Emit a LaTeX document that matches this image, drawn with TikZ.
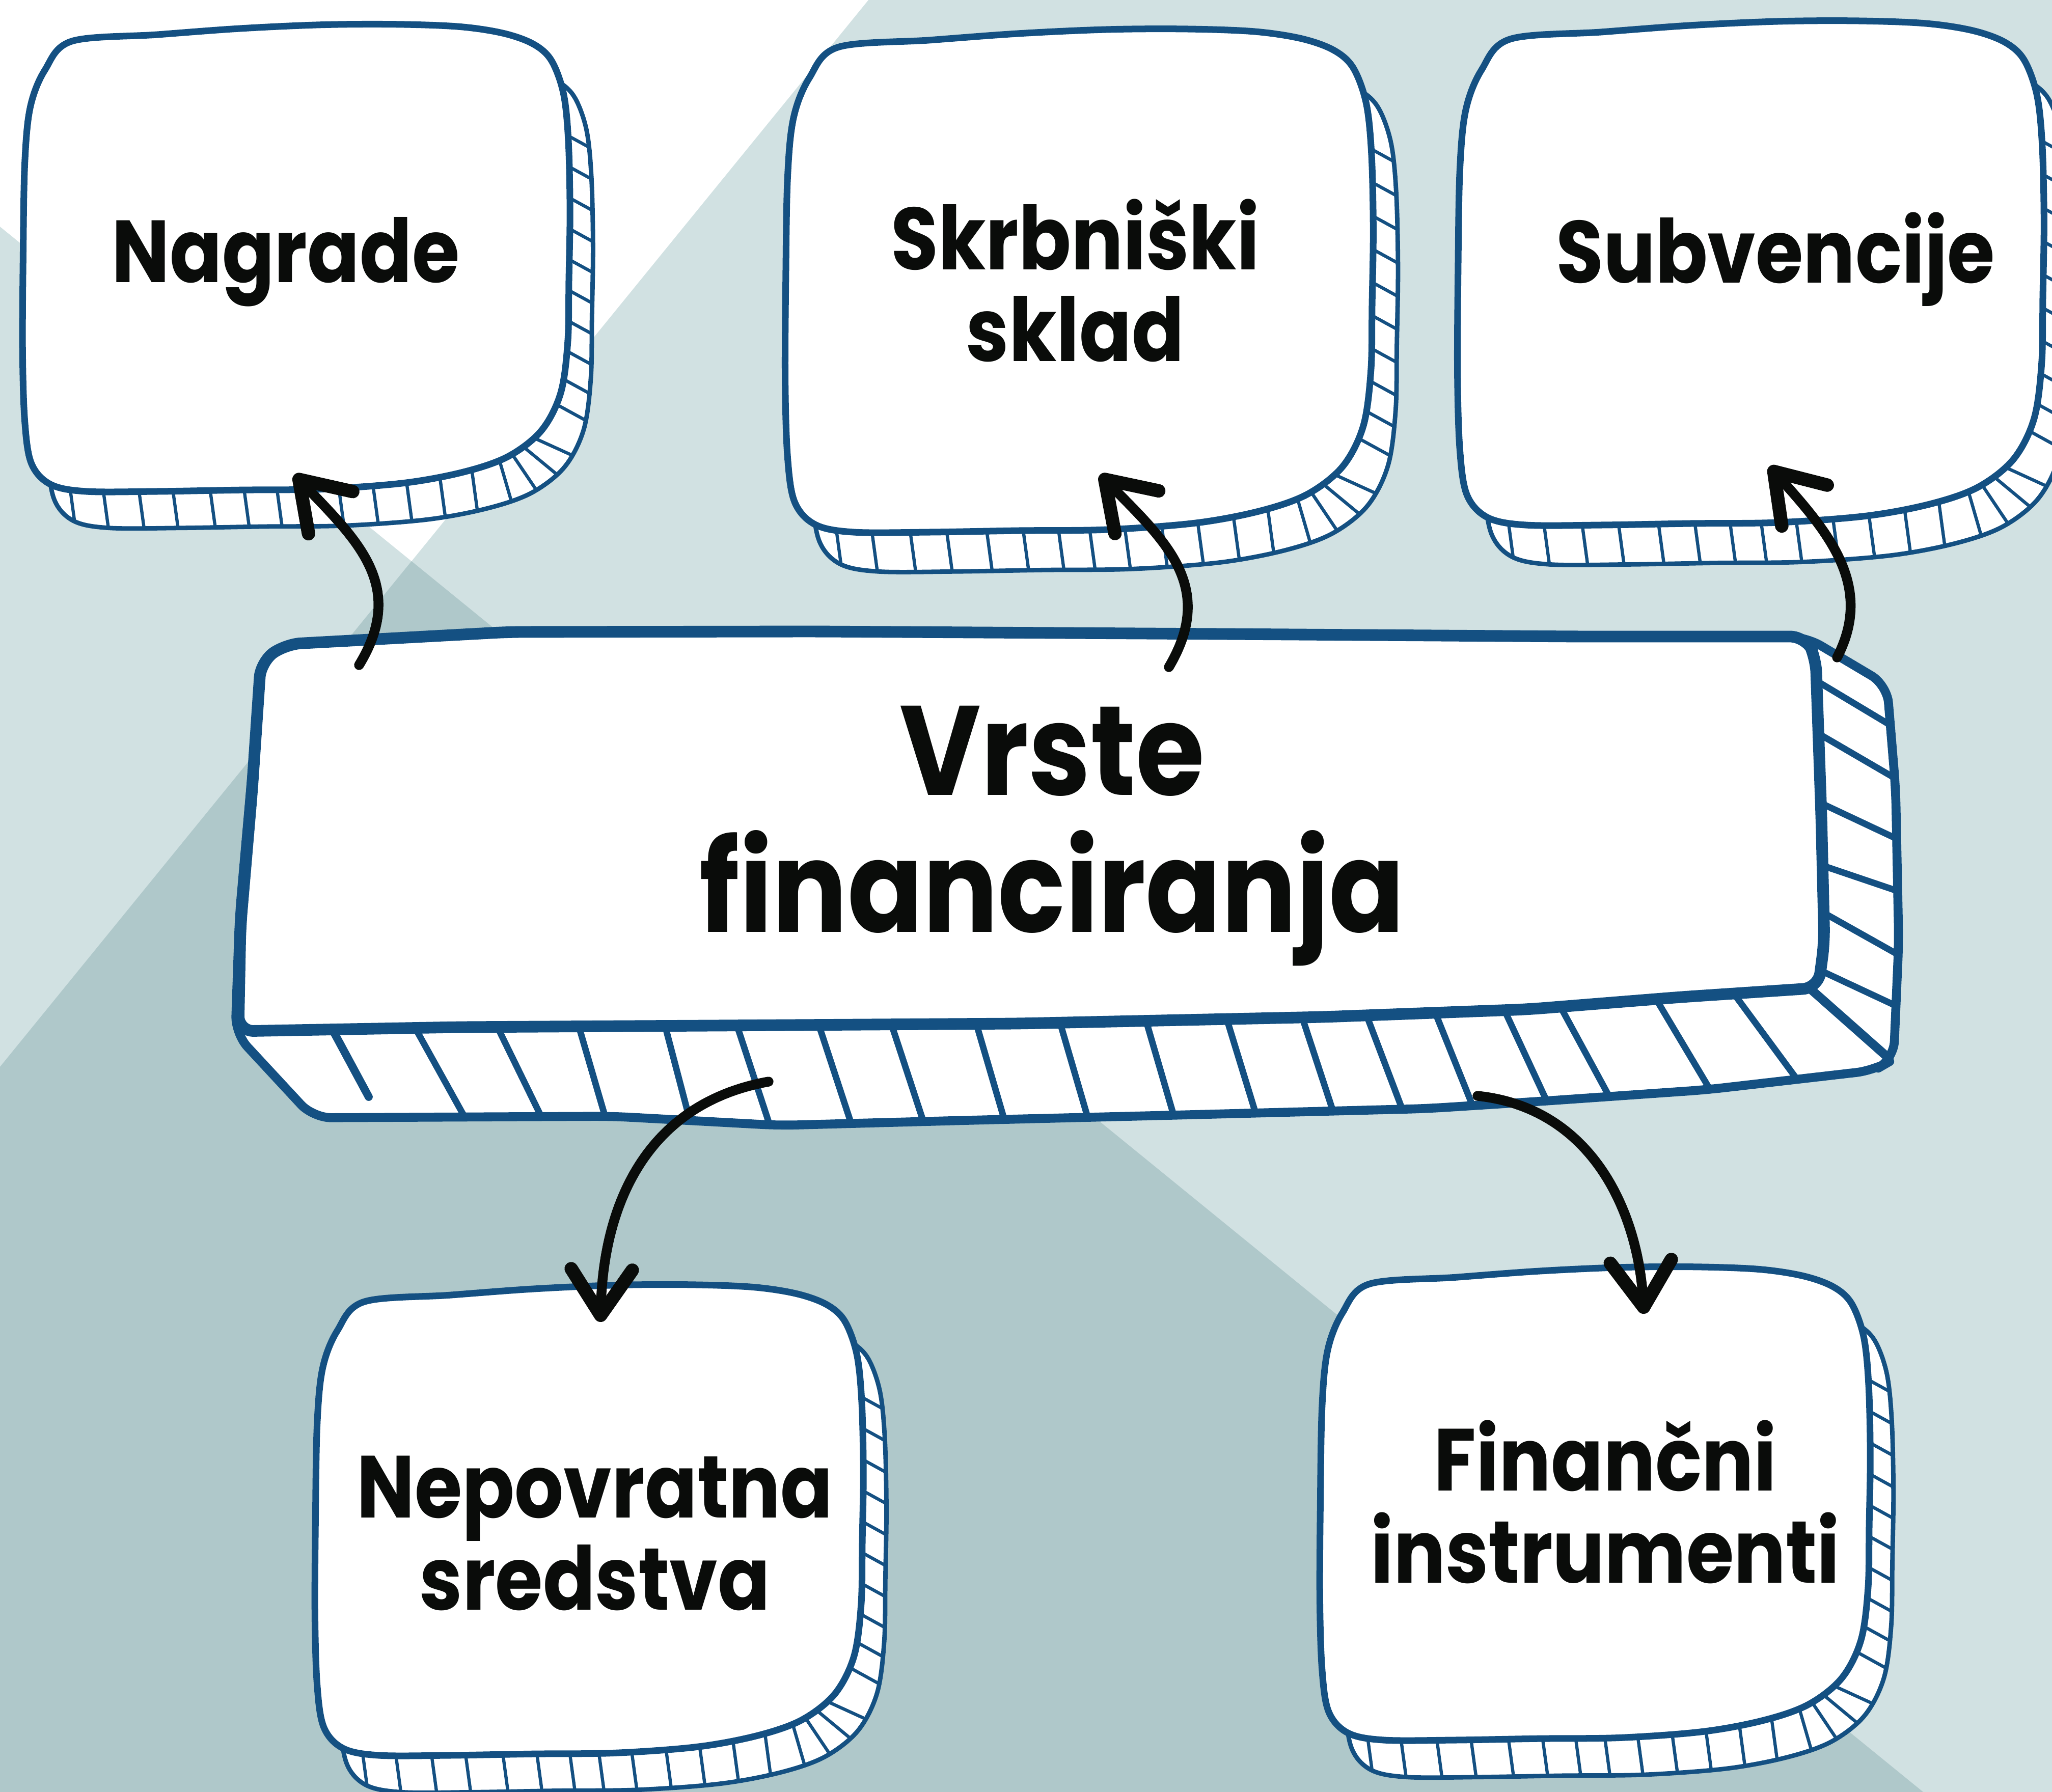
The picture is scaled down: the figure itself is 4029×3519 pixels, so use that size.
\documentclass[tikz,border=0pt]{standalone}
\usepackage{fontspec}
\setmainfont{Poppins}[FakeStretch=0.875]
\usetikzlibrary{arrows.meta}
\definecolor{bglight}{HTML}{D1E1E2}
\definecolor{bgdark}{HTML}{AFC8CA}
\definecolor{boxblue}{HTML}{145082}
\definecolor{ink}{HTML}{0A0C0A}
\newcommand\facepath{plot[smooth cycle, tension=0.55] coordinates {(94,39) (250,25) (400,12) (550,4) (685,3) (800,8) (880,22) (935,45) (968,80) (990,150) (999,250) (1002,400) (1000,550) (998,680) (985,790) (950,870) (890,925) (810,958) (700,982) (550,995) (400,997) (250,1000) (120,1000) (55,985) (20,940) (8,850) (4,700) (5,500) (8,300) (18,180) (45,100)}}
\newcommand\pillow[4]{%
 \begin{scope}[shift={(#1,#2)}, xscale=#3/1000, yscale=#4/1000]
  \fill[white, shift={(42,78)}] \facepath;
  \begin{scope}
   \clip[shift={(42,78)}] \facepath;
   \foreach \u in {75,135,200,262,330,392,452,505,565,628,690,752,812}
     \draw[hatch] (\u,860) -- ++(35,300);
   \foreach \v in {165,230,296,362,428,494,560,626,690,752}
     \draw[hatch] (880,\v) -- ++(250,160);
   \foreach \a in {28,44,60,76}
     \draw[hatch] (850,840) -- ++(\a:330);
  \end{scope}
  \draw[outerline, shift={(42,78)}] \facepath;
  \draw[faceline] \facepath;
 \end{scope}}
\newcommand\bigouter{(515,1290) -- (1500,1240) -- (3545,1250) -- (3705,1345) -- (3722,1550) -- (3728,1850) -- (3718,2080) -- (3680,2102) -- (3350,2140) -- (3035,2162) -- (2800,2177) -- (2300,2190) -- (1900,2200) -- (1530,2210) -- (1200,2192) -- (615,2195) -- (462,2030) -- (470,1800) -- cycle}
\newcommand\bigface{(512,1300) -- (560,1265) -- (1000,1241) -- (1600,1240) -- (2400,1245) -- (3100,1250) -- (3545,1250) -- (3565,1290) -- (3576,1600) -- (3582,1850) -- (3570,1940) -- (3300,1958) -- (3000,1982) -- (2600,1997) -- (2000,2010) -- (1400,2014) -- (900,2017) -- (468,2025) -- (472,1820) -- (495,1550) -- cycle}
\tikzset{
 faceline/.style={draw=boxblue, line width=3.7pt, fill=white, line join=round},
 outerline/.style={draw=boxblue, line width=2.5pt, line join=round},
 hatch/.style={draw=boxblue, line width=1.8pt},
 bigfaceline/.style={draw=boxblue, line width=6.5pt, fill=white, line join=round, rounded corners=0.3cm},
 bigouterline/.style={draw=boxblue, line width=5pt, line join=round, rounded corners=0.35cm},
 bighatch/.style={draw=boxblue, line width=3.6pt, shorten <=-0.7cm, shorten >=-0.6cm},
 conn/.style={draw=ink, line width=5.5pt, line cap=round, -{Straight Barb[length=0.9cm, width=1.2cm, line width=7.5pt, round]}},
 lbl/.style={text=ink, font=\bfseries\fontsize{49.2pt}{51.2pt}\selectfont, align=center, inner sep=0pt, anchor=base},
 mainlbl/.style={text=ink, font=\bfseries\fontsize{71pt}{76.3pt}\selectfont, align=center, inner sep=0pt, anchor=base}
}
\begin{document}
\begin{tikzpicture}[x=0.01cm, y=-0.01cm]
\useasboundingbox (0,0) rectangle (4029,3519);
\clip (0,0) rectangle (4029,3519);
% background
\fill[bglight] (0,0) rectangle (4029,3519);
\fill[white] (0,0) -- (1705,0) -- (808,1102) -- (0,445) -- cycle;
\fill[bgdark] (808,1102) -- (0,2095) -- (0,3519) -- (3776,3519) -- cycle;
% small boxes
\pillow{40}{45}{1077}{920}
\pillow{1537}{54}{1157}{991}
\pillow{2857}{38}{1154}{993}
\pillow{614}{2520}{1079}{927}
\pillow{2587}{2485}{1083}{932}
% main box
\fill[white, rounded corners=0.35cm] \bigouter;
\begin{scope}
 \clip \bigouter;
 \draw[draw=boxblue, line width=4.5pt, line cap=round] (641,2000) -- (724,2154);
 \draw[bighatch] (826,2038) -- (902,2175);
 \draw[bighatch] (987,2038) -- (1054,2175);
 \draw[bighatch] (1143,2038) -- (1183,2175);
 \draw[bighatch] (1312,2038) -- (1348,2175);
 \draw[bighatch] (1455,2038) -- (1500,2175);
 \draw[bighatch] (1616,2038) -- (1661,2175);
 \draw[bighatch] (1759,2038) -- (1804,2175);
 \draw[bighatch] (1925,2038) -- (1965,2175);
 \draw[bighatch] (2090,2038) -- (2130,2175);
 \draw[bighatch] (2260,2038) -- (2300,2175);
 \draw[bighatch] (2420,2038) -- (2462,2175);
 \draw[bighatch] (2570,2038) -- (2615,2175);
 \draw[bighatch] (2700,2038) -- (2752,2175);
 \draw[bighatch] (2831,2021) -- (2886,2158);
 \draw[bighatch] (2968,2014) -- (3035,2158);
 \draw[bighatch] (3078,2003) -- (3160,2154);
 \draw[bighatch] (3266,1986) -- (3356,2137);
 \draw[bighatch] (3427,1982) -- (3525,2115);
 \draw[bighatch, line width=5pt] (3575,1960) -- (3705,2075);
 \draw[bighatch] (3590,1351) -- (3705,1420);
 \draw[bighatch] (3590,1452) -- (3705,1519);
 \draw[bighatch] (3592,1585) -- (3709,1640);
 \draw[bighatch] (3594,1705) -- (3712,1745);
 \draw[bighatch] (3594,1800) -- (3715,1868);
 \draw[bighatch] (3594,1915) -- (3716,1972);
\end{scope}
\draw[bigouterline] \bigouter;
\draw[bigfaceline] \bigface;
% labels (base anchor = baseline of the last line)
\node[lbl] (nagrade) at (561,555) {Nagrade};
\node[lbl] (skrb) at (2111,710) {Skrbniški\\sklad};
\node[lbl] (subv) at (3486,556) {Subvencije};
\node[lbl] (nepov) at (1168,3161) {Nepovratna\\sredstva};
\node[lbl] (finan) at (3152,3108) {Finančni\\instrumenti};
\node[mainlbl] (vrste) at (2066,1830) {Vrste\\financiranja};
% connectors
\coordinate (n1) at (705,1306); \coordinate (t1) at (578,932);
\coordinate (n2) at (2295,1310); \coordinate (t2) at (2160,932);
\coordinate (n3) at (3607,1291); \coordinate (t3) at (3474,916);
\coordinate (n4) at (1509,2124); \coordinate (t4) at (1179,2596);
\coordinate (n5) at (2901,2152); \coordinate (t5) at (3228,2580);
\draw[conn] (n1) .. controls (800,1150) and (700,1060) .. (t1);
\draw[conn] (n2) .. controls (2390,1150) and (2285,1060) .. (t2);
\draw[conn] (n3) .. controls (3680,1150) and (3590,1045) .. (t3);
\draw[conn] (n4) .. controls (1280,2165) and (1185,2350) .. (t4);
\draw[conn] (n5) .. controls (3120,2175) and (3215,2370) .. (t5);
\end{tikzpicture}
\end{document}
